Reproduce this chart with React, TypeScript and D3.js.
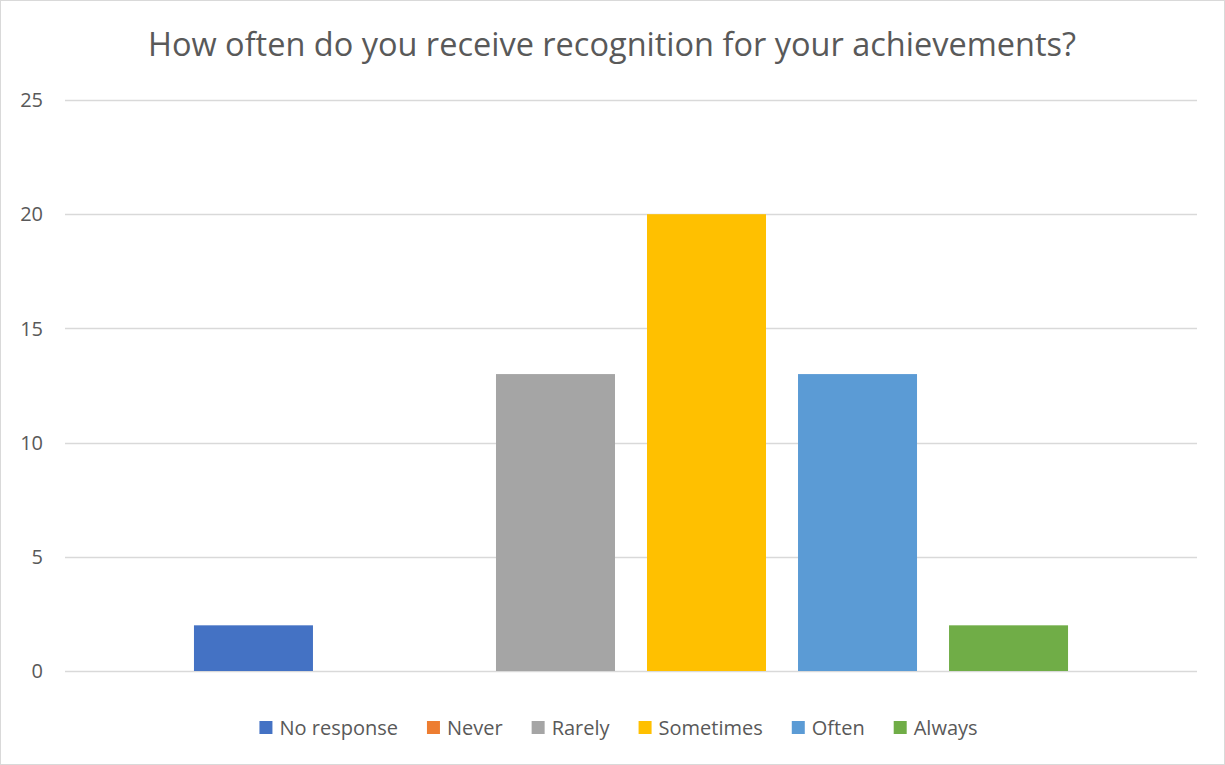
import React, { useEffect, useRef } from 'react';
import * as d3 from 'd3';

const categories = ['No response', 'Never', 'Rarely', 'Sometimes', 'Often', 'Always'];
const counts = [2, 0, 13, 20, 13, 2];
const colors = ['#4472C4', '#ED7D31', '#A5A5A5', '#FFC000', '#5B9BD5', '#70AD47'];
const yTicks = [0, 5, 10, 15, 20, 25];
const title = 'How often do you receive recognition for your achievements?';

const W = 1225;
const H = 765;
const FONT = '"Open Sans", "Liberation Sans", sans-serif';

const App: React.FC = () => {
    const svgRef = useRef<SVGSVGElement | null>(null);

    useEffect(() => {
        if (!svgRef.current) return;
        const svg = d3.select(svgRef.current);
        svg.selectAll('*').remove();

        // chart border
        svg.append('rect')
            .attr('x', 0.5).attr('y', 0.5)
            .attr('width', W - 1).attr('height', H - 1)
            .attr('fill', '#fff').attr('stroke', '#d9d9d9');

        const plotLeft = 65, plotRight = 1197, plotTop = 100, plotBottom = 671;

        const x = d3.scaleBand<string>()
            .domain(categories)
            .range([plotLeft, plotRight])
            .paddingInner(0.212)
            .paddingOuter(0.854);

        const y = d3.scaleLinear().domain([0, 25]).range([plotBottom, plotTop]);

        // gridlines
        svg.append('g')
            .selectAll('line')
            .data(yTicks)
            .enter()
            .append('line')
            .attr('x1', plotLeft).attr('x2', plotRight)
            .attr('y1', (d) => Math.round(y(d)) + 0.5)
            .attr('y2', (d) => Math.round(y(d)) + 0.5)
            .attr('stroke', '#d9d9d9')
            .attr('stroke-width', 1.3);

        // y labels
        svg.append('g')
            .selectAll('text')
            .data(yTicks)
            .enter()
            .append('text')
            .attr('x', 43)
            .attr('y', (d) => y(d))
            .attr('dy', '0.36em')
            .attr('text-anchor', 'end')
            .attr('font-family', FONT)
            .attr('font-size', 20)
            .attr('fill', '#595959')
            .text((d) => d);

        // bars
        svg.append('g')
            .selectAll('rect')
            .data(categories)
            .enter()
            .append('rect')
            .attr('x', (d) => x(d) as number)
            .attr('width', x.bandwidth())
            .attr('y', (d, i) => y(counts[i]))
            .attr('height', (d, i) => y(0) - y(counts[i]))
            .attr('fill', (d, i) => colors[i]);

        // title
        svg.append('text')
            .attr('x', 612)
            .attr('y', 56)
            .attr('text-anchor', 'middle')
            .attr('font-family', FONT)
            .attr('font-size', 32.5)
            .attr('fill', '#595959')
            .text(title);

        // legend
        const legend = svg.append('g');
        const items = legend.selectAll('g')
            .data(categories)
            .enter()
            .append('g');
        items.append('rect')
            .attr('width', 13).attr('height', 13)
            .attr('y', 721)
            .attr('fill', (d, i) => colors[i]);
        const labels = items.append('text')
            .attr('x', 20)
            .attr('y', 735)
            .attr('font-family', FONT)
            .attr('font-size', 20)
            .attr('fill', '#595959')
            .text((d) => d);
        const widths: number[] = [];
        labels.each(function () {
            widths.push((this as SVGTextElement).getComputedTextLength());
        });
        const gap = 29;
        const total = widths.reduce((a, w) => a + 20 + w, 0) + gap * (widths.length - 1);
        let cx = 618.5 - total / 2;
        items.attr('transform', (d, i) => {
            const t = `translate(${cx},0)`;
            cx += 20 + widths[i] + gap;
            return t;
        });
    }, []);

    return (
        <div style={{ position: 'absolute', left: 0, top: 0 }}>
            <svg ref={svgRef} width={W} height={H} style={{ display: 'block' }}></svg>
        </div>
    );
};

export default App;
